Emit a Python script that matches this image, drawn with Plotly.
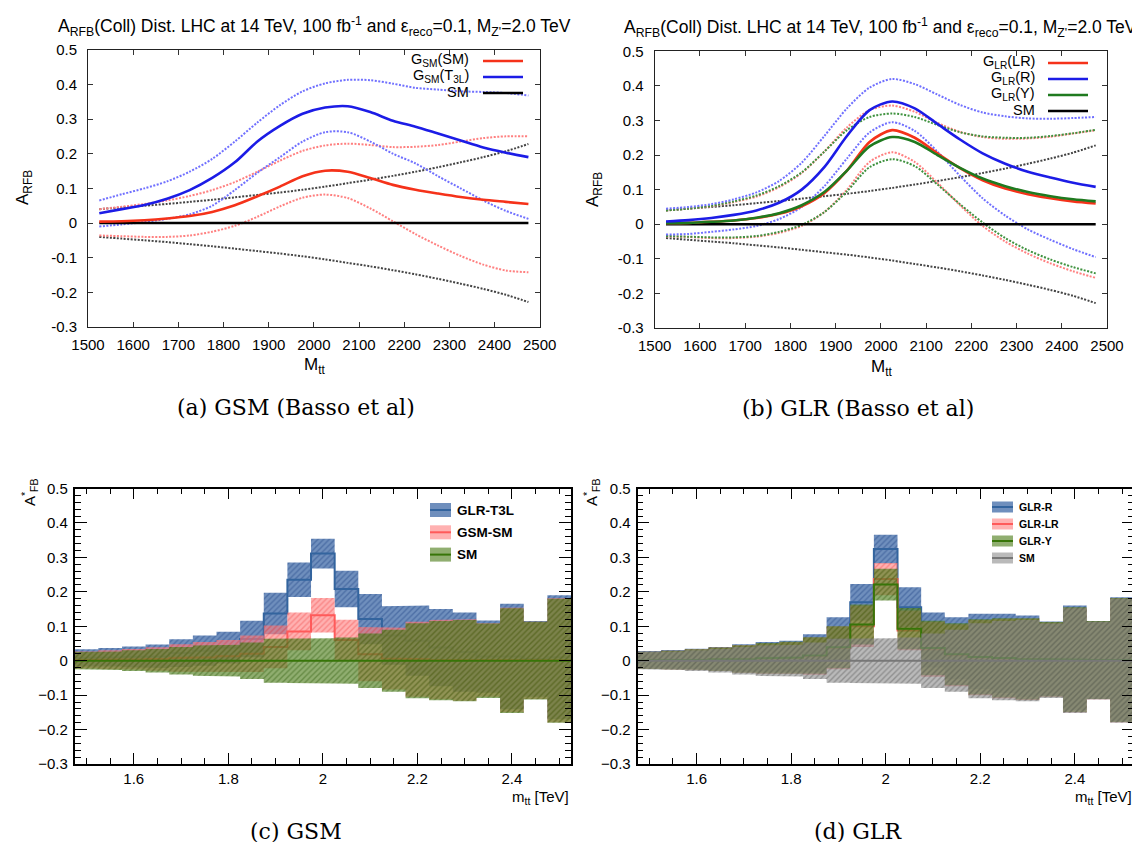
import plotly.graph_objects as go

W, H = 1140, 842
def px(x): return x / W
def py(y): return 1 - y / H

# ---------------- data: top panels (smooth curves) ----------------
mass = [1525, 1575, 1625, 1675, 1725, 1775, 1825, 1875, 1925, 1975,
        2025, 2075, 2125, 2175, 2225, 2275, 2325, 2375, 2425, 2475]

sm_central = [0.0] * 20
sm_upper = [0.040, 0.045, 0.050, 0.055, 0.061, 0.067, 0.074, 0.081, 0.088, 0.096,
            0.105, 0.115, 0.125, 0.136, 0.148, 0.161, 0.175, 0.190, 0.207, 0.228]
sm_lower = [-0.040, -0.045, -0.050, -0.055, -0.061, -0.067, -0.074, -0.081, -0.088, -0.096,
            -0.105, -0.115, -0.125, -0.136, -0.148, -0.161, -0.175, -0.190, -0.207, -0.228]

# (a) GSM
gsm_sm = [0.004, 0.005, 0.008, 0.013, 0.020, 0.032, 0.051, 0.077, 0.105, 0.135,
          0.151, 0.148, 0.130, 0.110, 0.096, 0.085, 0.075, 0.067, 0.061, 0.055]
gsm_sm_up = [0.040, 0.047, 0.055, 0.065, 0.078, 0.095, 0.118, 0.148, 0.180, 0.208,
             0.224, 0.229, 0.225, 0.219, 0.220, 0.225, 0.235, 0.245, 0.250, 0.250]
gsm_sm_lo = [-0.036, -0.038, -0.040, -0.040, -0.036, -0.025, -0.008, 0.018, 0.048, 0.073,
             0.082, 0.072, 0.042, 0.005, -0.032, -0.065, -0.095, -0.120, -0.137, -0.142]
gsm_t3l = [0.028, 0.040, 0.052, 0.070, 0.095, 0.130, 0.175, 0.235, 0.280, 0.315,
           0.333, 0.337, 0.320, 0.295, 0.278, 0.258, 0.238, 0.218, 0.203, 0.190]
gsm_t3l_up = [0.065, 0.083, 0.100, 0.120, 0.148, 0.185, 0.235, 0.290, 0.340, 0.380,
              0.403, 0.413, 0.412, 0.402, 0.390, 0.385, 0.380, 0.378, 0.375, 0.368]
gsm_t3l_lo = [-0.010, -0.004, 0.003, 0.012, 0.025, 0.050, 0.095, 0.145, 0.190, 0.235,
              0.262, 0.262, 0.235, 0.200, 0.172, 0.135, 0.100, 0.065, 0.035, 0.012]

# (b) GLR
glr_lr = [0.003, 0.004, 0.007, 0.011, 0.018, 0.030, 0.052, 0.090, 0.155, 0.238,
          0.272, 0.250, 0.205, 0.162, 0.127, 0.103, 0.087, 0.075, 0.066, 0.060]
glr_lr_up = [0.040, 0.045, 0.052, 0.064, 0.080, 0.107, 0.148, 0.210, 0.280, 0.330,
             0.343, 0.325, 0.293, 0.267, 0.252, 0.247, 0.248, 0.253, 0.262, 0.272]
glr_lr_lo = [-0.035, -0.037, -0.040, -0.040, -0.036, -0.025, -0.005, 0.035, 0.100, 0.180,
             0.208, 0.180, 0.120, 0.055, -0.005, -0.050, -0.085, -0.113, -0.136, -0.155]
glr_r = [0.008, 0.012, 0.018, 0.027, 0.040, 0.062, 0.100, 0.165, 0.255, 0.330,
         0.355, 0.335, 0.290, 0.245, 0.205, 0.175, 0.152, 0.135, 0.120, 0.108]
glr_r_up = [0.045, 0.050, 0.058, 0.072, 0.092, 0.125, 0.178, 0.255, 0.335, 0.395,
            0.420, 0.405, 0.375, 0.345, 0.323, 0.312, 0.306, 0.305, 0.307, 0.310]
glr_r_lo = [-0.030, -0.028, -0.022, -0.015, -0.005, 0.015, 0.050, 0.110, 0.190, 0.265,
            0.295, 0.270, 0.210, 0.140, 0.075, 0.025, -0.015, -0.045, -0.072, -0.095]
glr_y = [0.003, 0.004, 0.007, 0.011, 0.019, 0.032, 0.055, 0.093, 0.155, 0.225,
         0.252, 0.238, 0.200, 0.163, 0.132, 0.110, 0.093, 0.081, 0.072, 0.066]
glr_y_up = [0.040, 0.045, 0.053, 0.066, 0.083, 0.110, 0.150, 0.210, 0.272, 0.310,
            0.320, 0.310, 0.287, 0.266, 0.254, 0.250, 0.250, 0.255, 0.263, 0.273]
glr_y_lo = [-0.034, -0.036, -0.038, -0.038, -0.034, -0.022, -0.002, 0.035, 0.095, 0.165,
            0.188, 0.168, 0.115, 0.058, 0.005, -0.040, -0.075, -0.102, -0.124, -0.142]

# ---------------- data: bottom panels (histograms) ----------------
bin_centers = [1.50, 1.55, 1.60, 1.65, 1.70, 1.75, 1.80, 1.85, 1.90, 1.95, 2.00,
               2.05, 2.10, 2.15, 2.20, 2.25, 2.30, 2.35, 2.40, 2.45, 2.50]
bin_width = 0.05

sm_hist = [0.0] * 21
sm_hist_err = [0.025, 0.027, 0.030, 0.034, 0.040, 0.044, 0.046, 0.053, 0.064, 0.065, 0.065,
               0.067, 0.079, 0.090, 0.109, 0.115, 0.118, 0.108, 0.152, 0.113, 0.180]

# (c)
c_t3l = [0.008, 0.010, 0.011, 0.013, 0.022, 0.029, 0.038, 0.063, 0.137, 0.235, 0.311,
         0.208, 0.121, 0.073, 0.058, 0.038, 0.025, 0.012, 0.012, 0.005, 0.010]
c_t3l_err = [0.025, 0.027, 0.030, 0.034, 0.040, 0.044, 0.046, 0.053, 0.060, 0.050, 0.043,
             0.053, 0.073, 0.085, 0.102, 0.112, 0.115, 0.105, 0.153, 0.110, 0.180]
c_gsm = [0.002, 0.003, 0.004, 0.005, 0.008, 0.010, 0.013, 0.020, 0.040, 0.085, 0.132,
         0.060, 0.019, 0.006, 0.004, 0.003, 0.002, 0.002, 0.002, 0.001, 0.001]
c_gsm_err = [0.025, 0.027, 0.030, 0.034, 0.040, 0.044, 0.047, 0.053, 0.062, 0.055, 0.050,
             0.059, 0.079, 0.090, 0.109, 0.115, 0.118, 0.107, 0.152, 0.112, 0.180]

# (d)
d_r = [0.003, 0.004, 0.005, 0.006, 0.008, 0.010, 0.012, 0.022, 0.062, 0.170, 0.324,
       0.155, 0.060, 0.036, 0.027, 0.021, 0.013, 0.006, 0.008, 0.002, 0.004]
d_r_err = [0.025, 0.027, 0.030, 0.034, 0.040, 0.044, 0.046, 0.055, 0.064, 0.053, 0.042,
           0.058, 0.080, 0.090, 0.109, 0.115, 0.118, 0.108, 0.152, 0.113, 0.180]
d_lr = [0.001, 0.002, 0.003, 0.004, 0.005, 0.006, 0.008, 0.013, 0.037, 0.100, 0.237,
        0.088, 0.033, 0.016, 0.009, 0.006, 0.004, 0.003, 0.002, 0.001, 0.001]
d_lr_err = [0.025, 0.027, 0.030, 0.034, 0.040, 0.044, 0.046, 0.054, 0.062, 0.060, 0.047,
            0.058, 0.080, 0.090, 0.109, 0.115, 0.118, 0.108, 0.152, 0.113, 0.180]
d_y = [0.001, 0.002, 0.003, 0.004, 0.005, 0.007, 0.009, 0.015, 0.039, 0.105, 0.221,
       0.093, 0.037, 0.019, 0.011, 0.008, 0.005, 0.004, 0.003, 0.002, 0.002]
d_y_err = [0.025, 0.027, 0.030, 0.034, 0.040, 0.044, 0.046, 0.053, 0.061, 0.058, 0.046,
           0.060, 0.079, 0.090, 0.109, 0.115, 0.118, 0.108, 0.152, 0.113, 0.180]

y_ticks = [-0.3, -0.2, -0.1, 0, 0.1, 0.2, 0.3, 0.4, 0.5]
y_ticktext_top = ["-0.3", "-0.2", "-0.1", "0", "0.1", "0.2", "0.3", "0.4", "0.5"]
x_ticks_top = [1500, 1600, 1700, 1800, 1900, 2000, 2100, 2200, 2300, 2400, 2500]
x_ticks_bot = [1.6, 1.8, 2.0, 2.2, 2.4]
x_ticktext_bot = ["1.6", "1.8", "2", "2.2", "2.4"]

SANS = "Liberation Sans, Arial, sans-serif"
SERIF = "DejaVu Serif, serif"

fig = go.Figure()

# ---------------- top panels ----------------
RED, BLUE, GREEN, BLACK = "#f5321a", "#1c1ce6", "#1f7a1f", "#000000"
RED_D, BLUE_D, GREEN_D, BLACK_D = "#ff8080", "#7070ff", "#3f923f", "#444444"

def curve(x, y, color, axis, dotted=False):
    fig.add_trace(go.Scatter(
        x=x, y=y, mode="lines", line=dict(color=color, width=2.0 if dotted else 2.6,
                                          dash="2px,1.5px" if dotted else "solid",
                                          shape="spline", smoothing=0.8),
        xaxis="x" + axis, yaxis="y" + axis, showlegend=False, hoverinfo="skip"))

# panel (a)
for up, lo, col in [(sm_upper, sm_lower, BLACK_D), (gsm_sm_up, gsm_sm_lo, RED_D),
                    (gsm_t3l_up, gsm_t3l_lo, BLUE_D)]:
    curve(mass, up, col, "", True)
    curve(mass, lo, col, "", True)
curve(mass, sm_central, BLACK, "")
curve(mass, gsm_sm, RED, "")
curve(mass, gsm_t3l, BLUE, "")

# panel (b)
for up, lo, col in [(sm_upper, sm_lower, BLACK_D), (glr_lr_up, glr_lr_lo, RED_D),
                    (glr_y_up, glr_y_lo, GREEN_D), (glr_r_up, glr_r_lo, BLUE_D)]:
    curve(mass, up, col, "2", True)
    curve(mass, lo, col, "2", True)
curve(mass, sm_central, BLACK, "2")
curve(mass, glr_lr, RED, "2")
curve(mass, glr_y, GREEN, "2")
curve(mass, glr_r, BLUE, "2")

# ---------------- bottom panels ----------------
def edges_of(centers, w):
    return [c - w / 2 for c in centers] + [centers[-1] + w / 2]

def step_xy(edges, vals):
    xs, ys = [], []
    for i, v in enumerate(vals):
        xs += [edges[i], edges[i + 1]]
        ys += [v, v]
    return xs, ys

edges = edges_of(bin_centers, bin_width)

STY = {
    "blue": dict(bg="rgba(75,115,172,0.80)", fg="rgba(35,70,135,0.90)", line="#33649e"),
    "red": dict(bg="rgba(255,125,125,0.60)", fg="rgba(240,70,70,0.80)", line="#ff5a5a"),
    "green": dict(bg="rgba(85,130,35,0.65)", fg="rgba(45,90,10,0.85)", line="#377508"),
    "grey": dict(bg="rgba(140,140,140,0.60)", fg="rgba(85,85,85,0.85)", line="#777777"),
}

def hist(center, err, style, axis):
    s = STY[style]
    up = [c + e for c, e in zip(center, err)]
    lo = [c - e for c, e in zip(center, err)]
    ux, uy = step_xy(edges, up)
    lx, ly = step_xy(edges, lo)
    fig.add_trace(go.Scatter(
        x=ux + lx[::-1], y=uy + ly[::-1], mode="lines", fill="toself",
        fillcolor=s["bg"], line=dict(width=0),
        fillpattern=dict(shape="/", size=4, solidity=0.35, fgcolor=s["fg"],
                         bgcolor=s["bg"], fillmode="overlay"),
        xaxis="x" + axis, yaxis="y" + axis, showlegend=False, hoverinfo="skip"))
    cx, cy = step_xy(edges, center)
    fig.add_trace(go.Scatter(
        x=cx, y=cy, mode="lines", line=dict(color=s["line"], width=2),
        xaxis="x" + axis, yaxis="y" + axis, showlegend=False, hoverinfo="skip"))

hist(c_t3l, c_t3l_err, "blue", "3")
hist(c_gsm, c_gsm_err, "red", "3")
hist(sm_hist, sm_hist_err, "green", "3")

hist(d_r, d_r_err, "blue", "4")
hist(d_lr, d_lr_err, "red", "4")
hist(d_y, d_y_err, "green", "4")
hist(sm_hist, sm_hist_err, "grey", "4")

# ---------------- axes ----------------
def top_x(dom):
    return dict(domain=dom, range=[1500, 2500], tickvals=x_ticks_top, ticks="inside",
                ticklen=5, tickcolor="#333", mirror="allticks", showline=True,
                linecolor="#222", linewidth=1, showgrid=False, zeroline=False,
                automargin=False, ticklabelstandoff=4,
                tickfont=dict(family=SANS, size=15, color="black"))

def top_y(dom):
    return dict(domain=dom, range=[-0.3, 0.5], tickvals=y_ticks, ticktext=y_ticktext_top,
                ticks="inside", ticklen=5, tickcolor="#333", mirror="allticks",
                showline=True, linecolor="#222", linewidth=1, showgrid=False,
                zeroline=False, ticklabelstandoff=7, automargin=False,
                tickfont=dict(family=SANS, size=15, color="black"))

def bot_x(dom):
    return dict(domain=dom, range=[1.475, 2.525], tickvals=x_ticks_bot,
                ticktext=x_ticktext_bot, ticks="inside", ticklen=11, tickwidth=1.3,
                tickcolor="black", mirror="allticks", showline=True, linecolor="black",
                linewidth=1.6, showgrid=False, zeroline=False, automargin=False,
                minor=dict(dtick=0.05, tick0=1.475 + 0.025, ticks="inside", ticklen=6,
                           tickcolor="black", tickwidth=1),
                tickfont=dict(family=SANS, size=15, color="black"))

def bot_y(dom):
    return dict(domain=dom, range=[-0.3, 0.5], tickvals=y_ticks, ticks="inside",
                ticklen=12, tickwidth=1.3, tickcolor="black", mirror="allticks",
                showline=True, linecolor="black", linewidth=1.6, showgrid=False,
                zeroline=False, ticklabelstandoff=2, automargin=False,
                minor=dict(dtick=0.02, tick0=0, ticks="inside", ticklen=6,
                           tickcolor="black", tickwidth=1),
                tickfont=dict(family=SANS, size=15, color="black"))

layout = dict(
    width=W, height=H, autosize=False, margin=dict(l=0, r=0, t=0, b=0),
    paper_bgcolor="white", plot_bgcolor="white", showlegend=False,
    xaxis=dict(top_x([px(80), px(531.7)]), anchor="y"),
    yaxis=dict(top_y([py(319), py(41.7)]), anchor="x"),
    xaxis2=dict(top_x([px(646.7), px(1099)]), anchor="y2"),
    yaxis2=dict(top_y([py(320), py(43.3)]), anchor="x2"),
    xaxis3=dict(bot_x([px(66.7), px(563)]), anchor="y3"),
    yaxis3=dict(bot_y([py(756), py(480.5)]), anchor="x3"),
    xaxis4=dict(bot_x([px(629.5), px(1125.9)]), anchor="y4"),
    yaxis4=dict(bot_y([py(756), py(480.5)]), anchor="x4"),
)
fig.update_layout(**layout)

ann = []
shapes = []

def text(x, y, t, size, family=SANS, xanchor="center", yanchor="middle", angle=0, bold=False):
    if bold:
        t = "<b>" + t + "</b>"
    ann.append(dict(x=px(x), y=py(y), xref="paper", yref="paper", text=t, showarrow=False,
                    xanchor=xanchor, yanchor=yanchor, textangle=angle,
                    font=dict(family=family, size=size, color="black")))

title_txt = ("A<sub>RFB</sub>(Coll) Dist. LHC at 14 TeV, 100 fb<sup>-1</sup> and "
             "ε<sub>reco</sub>=0.1, M<sub>Z'</sub>=2.0 TeV")
text(306, 19, title_txt, 17.5)
text(872, 20, title_txt, 17.5)
text(16, 180, "A<sub>RFB</sub>", 17, angle=-90)
text(586, 182, "A<sub>RFB</sub>", 17, angle=-90)
text(306, 358, "M<sub>tt</sub>", 17)
text(873, 360, "M<sub>tt</sub>", 17)

text(288, 399, "(a) GSM (Basso et al)", 22, family=SERIF)
text(850, 400, "(b) GLR (Basso et al)", 22, family=SERIF)
text(288, 823, "(c) GSM", 22, family=SERIF)
text(850, 823, "(d) GLR", 22, family=SERIF)

for x0, top in [(22, 468), (584, 468)]:
    text(x0, top, "A<sup>*</sup><sub>FB</sub>", 15, angle=-90, yanchor="top")
text(563, 789, "m<sub>tt</sub> [TeV]", 15, xanchor="right")
text(1126, 789, "m<sub>tt</sub> [TeV]", 15, xanchor="right")

# legends, top panels
leg_a = [("G<sub>SM</sub>(SM)", RED), ("G<sub>SM</sub>(T<sub>3L</sub>)", BLUE), ("SM", BLACK)]
leg_b = [("G<sub>LR</sub>(LR)", RED), ("G<sub>LR</sub>(R)", BLUE),
         ("G<sub>LR</sub>(Y)", GREEN), ("SM", BLACK)]
for items, xr, lx0, lx1, y0 in [(leg_a, 463, 475, 515, 52), (leg_b, 1029, 1040, 1080, 54)]:
    for i, (name, col) in enumerate(items):
        yy = y0 + 16 * i
        text(xr, yy, name, 14.5, xanchor="right")
        shapes.append(dict(type="line", xref="paper", yref="paper", x0=px(lx0), x1=px(lx1),
                           y0=py(yy + 1), y1=py(yy + 1), line=dict(color=col, width=2.6)))

# legends, bottom panels
leg_c = [("GLR-T3L", "blue"), ("GSM-SM", "red"), ("SM", "green")]
leg_d = [("GLR-R", "blue"), ("GLR-LR", "red"), ("GLR-Y", "green"), ("SM", "grey")]
for items, bx0, bx1, tx, y0, dy, bh, fs in [(leg_c, 422, 443, 447, 502, 22.3, 14, 13.5),
                                             (leg_d, 984, 1005, 1009, 499, 17, 11, 10.5)]:
    for i, (name, st) in enumerate(items):
        yy = y0 + dy * i
        s = STY[st]
        shapes.append(dict(type="rect", xref="paper", yref="paper", x0=px(bx0), x1=px(bx1),
                           y0=py(yy + bh / 2), y1=py(yy - bh / 2), fillcolor=s["bg"],
                           line=dict(width=0)))
        shapes.append(dict(type="line", xref="paper", yref="paper", x0=px(bx0), x1=px(bx1),
                           y0=py(yy), y1=py(yy), line=dict(color=s["line"], width=2)))
        text(tx, yy, name, fs, xanchor="left", bold=True)

fig.update_layout(annotations=ann, shapes=shapes)
fig.write_html("out.html")
